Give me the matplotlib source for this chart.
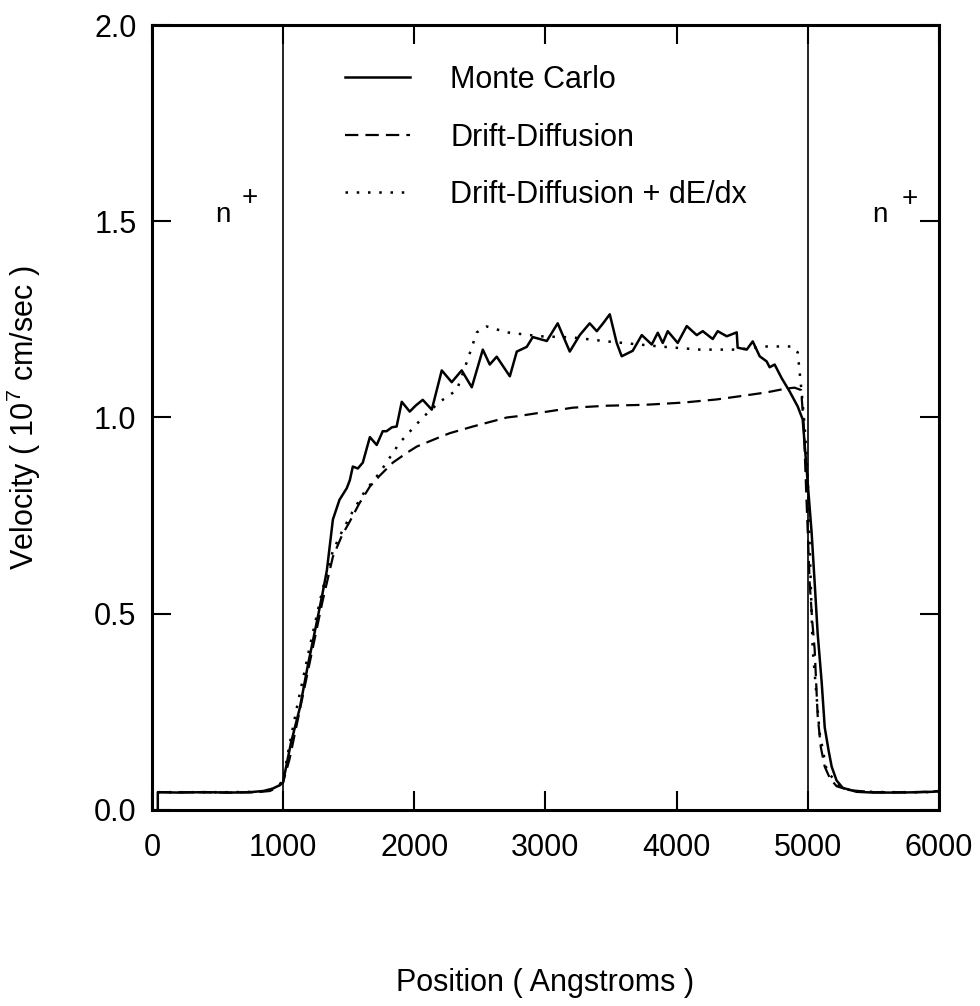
"""
Electron velocity profile across an n+ - n - n+ structure:
Monte Carlo vs drift-diffusion vs drift-diffusion with energy-gradient term.
"""

import matplotlib
matplotlib.use("Agg")
import matplotlib.pyplot as plt

plt.rcParams["font.family"] = ["Liberation Sans", "DejaVu Sans"]
plt.rcParams["mathtext.default"] = "regular"

# position in Angstroms, velocity in 1e7 cm/sec
mc_x = [45, 45, 200, 400, 600, 750, 850, 920, 970, 1000,
        1014, 1060, 1128, 1190, 1258, 1300, 1334, 1380, 1430, 1486,
        1509, 1532, 1570, 1608, 1662, 1714, 1760, 1789, 1830, 1866,
        1905, 1966, 2010, 2065, 2134, 2210, 2286, 2362, 2439, 2523,
        2576, 2629, 2729, 2782, 2858, 2904, 3011, 3094, 3186, 3262,
        3338, 3392, 3440, 3491, 3544, 3582, 3666, 3735, 3811, 3857,
        3895, 3933, 4009, 4078, 4154, 4200, 4276, 4314, 4383, 4459,
        4466, 4535, 4581, 4634, 4687, 4710, 4748, 4802, 4863, 4924,
        4962, 5000, 5030, 5053, 5076, 5107, 5130, 5160, 5183, 5220,
        5267, 5373, 5500, 5701, 5850, 5953, 6000]
mc_v = [0.0, 0.045, 0.044, 0.045, 0.044, 0.045, 0.048, 0.054, 0.062, 0.07,
        0.094, 0.17, 0.26, 0.37, 0.48, 0.55, 0.61, 0.74, 0.79, 0.82,
        0.84, 0.875, 0.87, 0.885, 0.95, 0.93, 0.965, 0.965, 0.975, 0.977,
        1.04, 1.015, 1.03, 1.045, 1.02, 1.12, 1.09, 1.12, 1.077, 1.173,
        1.135, 1.155, 1.105, 1.168, 1.18, 1.205, 1.195, 1.24, 1.168, 1.21,
        1.24, 1.22, 1.24, 1.263, 1.19, 1.156, 1.17, 1.21, 1.186, 1.216,
        1.19, 1.22, 1.19, 1.233, 1.21, 1.22, 1.2, 1.22, 1.207, 1.217,
        1.178, 1.173, 1.194, 1.156, 1.143, 1.128, 1.135, 1.10, 1.066, 1.028,
        0.995, 0.834, 0.707, 0.58, 0.45, 0.324, 0.21, 0.15, 0.11, 0.075,
        0.056, 0.046, 0.044, 0.044, 0.045, 0.046, 0.048]

dd_x = [45, 300, 600, 800, 900, 960, 1000, 1050, 1100, 1200,
        1300, 1380, 1450, 1509, 1580, 1662, 1738, 1837, 1944, 2020,
        2195, 2271, 2447, 2706, 2782, 2957, 3209, 3468, 3719, 3796,
        4050, 4306, 4500, 4687, 4840, 4900, 4950, 4970, 4990, 5015,
        5035, 5053, 5076, 5100, 5130, 5170, 5221, 5320, 5500, 5800, 6000]
dd_v = [0.045, 0.045, 0.044, 0.045, 0.048, 0.058, 0.07, 0.13, 0.21, 0.37,
        0.53, 0.645, 0.70, 0.735, 0.78, 0.824, 0.852, 0.885, 0.91, 0.926,
        0.95, 0.96, 0.977, 1.0, 1.003, 1.012, 1.025, 1.03, 1.032, 1.033,
        1.038, 1.046, 1.055, 1.064, 1.074, 1.076, 1.07, 0.98, 0.80, 0.58,
        0.48, 0.41, 0.24, 0.16, 0.11, 0.08, 0.06, 0.05, 0.045, 0.045, 0.047]

de_x = [45, 300, 600, 800, 900, 960, 1000, 1040, 1105, 1200,
        1300, 1380, 1450, 1530, 1620, 1738, 1890, 2065, 2195, 2325,
        2408, 2477, 2553, 2706, 2957, 3209, 3468, 3872, 4177, 4459,
        4687, 4886, 4924, 4939, 4954, 4977, 5000, 5038, 5091, 5145,
        5244, 5350, 5600, 5900, 6000]
de_v = [0.045, 0.045, 0.045, 0.046, 0.05, 0.06, 0.075, 0.15, 0.26, 0.41,
        0.56, 0.66, 0.71, 0.76, 0.81, 0.86, 0.936, 1.0, 1.04, 1.07,
        1.148, 1.217, 1.232, 1.217, 1.207, 1.204, 1.194, 1.181, 1.173, 1.173,
        1.181, 1.181, 1.166, 1.115, 1.064, 0.977, 0.85, 0.41, 0.196, 0.10,
        0.059, 0.047, 0.045, 0.045, 0.047]

junctions = [1000, 5000]
x_ticks = [0, 1000, 2000, 3000, 4000, 5000, 6000]
y_ticks = [0.0, 0.5, 1.0, 1.5, 2.0]


def main():
    fig = plt.figure(figsize=(9.8, 10.06), dpi=100)
    ax = fig.add_axes([0.155, 0.195, 0.803, 0.78])

    for xj in junctions:
        ax.axvline(xj, color="black", lw=1.2)

    ax.plot(mc_x, mc_v, color="black", lw=1.8, label="Monte Carlo")
    ax.plot(dd_x, dd_v, color="black", lw=1.6, linestyle=(0, (6, 3.2)),
            label="Drift-Diffusion")
    ax.plot(de_x, de_v, color="black", lw=1.8, linestyle=(0, (1, 3.5)),
            label="Drift-Diffusion + dE/dx")

    # n+ contact labels
    ax.text(540, 1.515, "n", fontsize=20, ha="center", va="center")
    ax.text(747, 1.56, "+", fontsize=20, ha="center", va="center")
    ax.text(5550, 1.515, "n", fontsize=20, ha="center", va="center")
    ax.text(5777, 1.558, "+", fontsize=20, ha="center", va="center")

    ax.set_xlim(0, 6000)
    ax.set_ylim(0, 2.0)
    ax.set_xticks(x_ticks)
    ax.set_yticks(y_ticks)
    ax.set_yticklabels([f"{v:.1f}" for v in y_ticks])
    ax.tick_params(direction="in", top=True, right=True, length=14,
                   width=1.5, labelsize=22)
    ax.tick_params(axis="x", pad=17)
    ax.tick_params(axis="y", pad=11)
    for sp in ax.spines.values():
        sp.set_linewidth(2.2)

    ax.set_xlabel("Position ( Angstroms )", fontsize=22)
    ax.xaxis.set_label_coords(0.5, -0.201)
    ax.set_ylabel("Velocity ( 10$^{7}$ cm/sec )", fontsize=22)
    ax.yaxis.set_label_coords(-0.138, 0.5)

    ax.legend(loc="upper left", bbox_to_anchor=(0.245, 0.949), frameon=False,
              fontsize=22, handlelength=2.15, handletextpad=1.3,
              labelspacing=0.9, borderpad=0, borderaxespad=0)

    fig.savefig("out.png", dpi=100)
    plt.close(fig)


if __name__ == "__main__":
    main()
